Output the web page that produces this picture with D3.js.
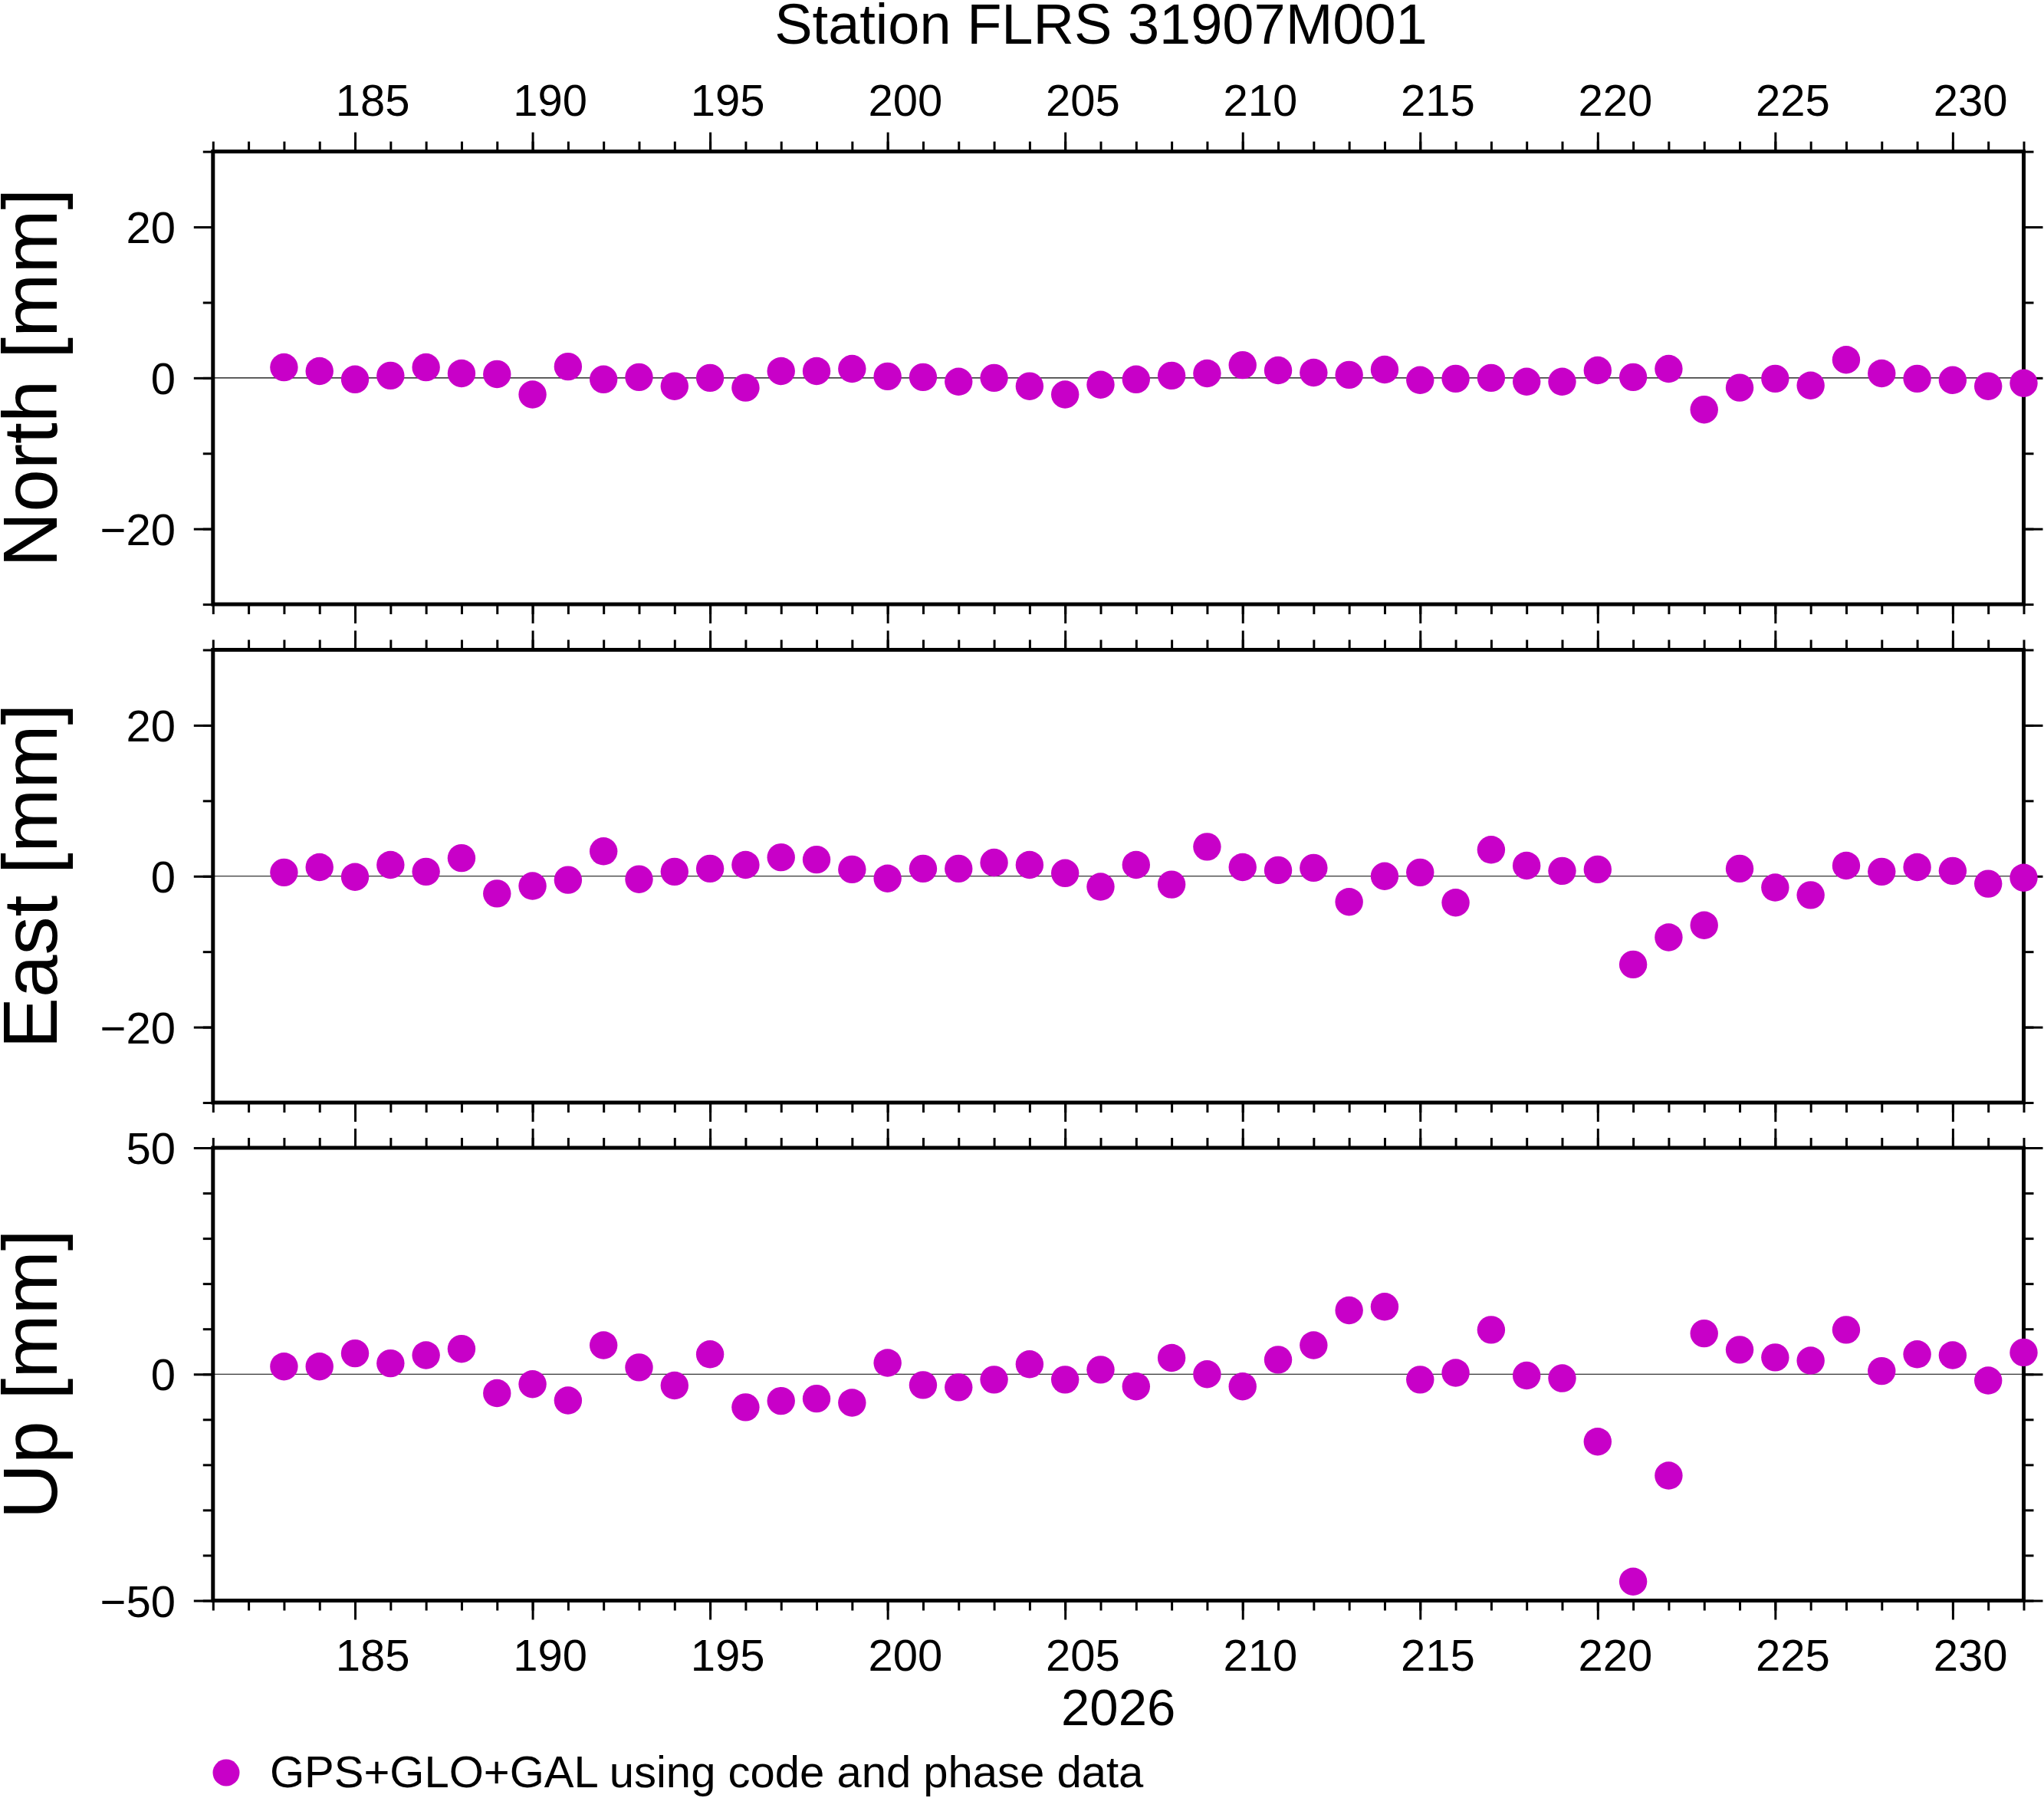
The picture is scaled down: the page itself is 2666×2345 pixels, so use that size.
<!DOCTYPE html>
<html>
<head>
<meta charset="utf-8">
<script src="https://cdn.jsdelivr.net/npm/d3@7"></script>
<style>
  html, body { margin: 0; padding: 0; background: #fff; }
  svg { display: block; }
  text { font-family: "Liberation Sans", Arial, Helvetica, sans-serif; fill: #000; }
</style>
</head>
<body>
<script>
// ---------------- data ----------------
const title = "Station FLRS 31907M001";
const yearLabel = "2026";
const legendLabel = "GPS+GLO+GAL using code and phase data";

const days = [183,184,185,186,187,188,189,190,191,192,193,194,195,196,197,198,199,200,201,202,
              203,204,205,206,207,208,209,210,211,212,213,214,215,216,217,218,219,220,221,222,
              223,224,225,226,227,228,229,230,231,232];

const north = [1.4, 0.9, -0.2, 0.3, 1.4, 0.6, 0.5, -2.2, 1.5, -0.2,
               0.1, -1.1, 0.0, -1.3, 0.9, 0.9, 1.2, 0.2, 0.1, -0.5,
               0.0, -1.1, -2.2, -0.9, -0.2, 0.3, 0.6, 1.7, 1.0, 0.7,
               0.4, 1.1, -0.3, -0.1, 0.0, -0.5, -0.5, 1.0, 0.1, 1.2,
               -4.2, -1.3, -0.1, -1.0, 2.4, 0.6, -0.1, -0.3, -1.1, -0.7];

const east = [0.5, 1.2, -0.1, 1.5, 0.6, 2.4, -2.3, -1.3, -0.5, 3.3,
              -0.4, 0.6, 1.0, 1.5, 2.5, 2.2, 0.9, -0.3, 1.0, 1.0,
              1.8, 1.5, 0.4, -1.4, 1.5, -1.1, 3.9, 1.2, 0.8, 1.1,
              -3.4, 0.0, 0.5, -3.5, 3.5, 1.4, 0.7, 0.9, -11.7, -8.1,
              -6.5, 1.0, -1.5, -2.5, 1.4, 0.6, 1.2, 0.7, -1.0, -0.2];

const up = [1.7, 1.7, 4.6, 2.4, 4.2, 5.6, -4.2, -2.2, -5.8, 6.4,
            1.5, -2.5, 4.4, -7.3, -5.9, -5.4, -6.3, 2.5, -2.4, -2.9,
            -1.2, 2.2, -1.2, 1.0, -2.7, 3.6, 0.0, -2.7, 3.2, 6.4,
            14.1, 14.9, -1.2, 0.3, 9.8, -0.3, -0.9, -14.9, -45.8, -22.4,
            9.0, 5.4, 3.7, 3.0, 9.8, 0.7, 4.4, 4.2, -1.4, 4.8];

const xDomain = [181, 232];
const xMajorTicks = [185, 190, 195, 200, 205, 210, 215, 220, 225, 230];
const xMinorTicks = [181,182,183,184,185,186,187,188,189,190,191,192,193,194,195,196,197,198,199,200,
                     201,202,203,204,205,206,207,208,209,210,211,212,213,214,215,216,217,218,219,220,
                     221,222,223,224,225,226,227,228,229,230,231,232];

const panelNames = ["North [mm]", "East [mm]", "Up [mm]"];
const panelDomains = [[-30, 30], [-30, 30], [-50, 50]];
const panelMajorTicks = [[-20, 0, 20], [-20, 0, 20], [-50, 0, 50]];
const panelMinorTicks = [[-30, -20, -10, 0, 10, 20, 30], [-30, -20, -10, 0, 10, 20, 30],
                         [-50, -40, -30, -20, -10, 0, 10, 20, 30, 40, 50]];
const panelValues = [north, east, up];

// ---------------- layout ----------------
const W = 2666, H = 2345;
const left = 277.8, right = 2639.5;
const panelTops = [197.6, 847.5, 1497.0];
const panelH = 590.5;
const color = "#c800c8";
const dotR = 18.2;
const frameW = 5;
const tickW = 3;
const majorLen = 25, minorLen = 13;
const fmt = v => (v < 0 ? "\u2212" + Math.abs(v) : String(v));

const svg = d3.select("body").append("svg")
  .attr("width", W).attr("height", H).attr("viewBox", `0 0 ${W} ${H}`);
svg.append("rect").attr("width", W).attr("height", H).attr("fill", "#fff");

const x = d3.scaleLinear().domain(xDomain).range([left, right]);

// title
svg.append("text")
  .attr("x", 1436).attr("y", 57)
  .attr("text-anchor", "middle")
  .attr("font-size", 74)
  .text(title);

function styleAxis(g) {
  g.select(".domain").remove();
  g.selectAll(".tick line").attr("stroke", "#000").attr("stroke-width", tickW);
  g.selectAll(".tick text").remove();
}

panelNames.forEach((name, i) => {
  const top = panelTops[i], bottom = top + panelH;
  const y = d3.scaleLinear().domain(panelDomains[i]).range([bottom, top]);
  const g = svg.append("g");

  // zero line
  g.append("line")
    .attr("x1", left).attr("x2", right)
    .attr("y1", y(0)).attr("y2", y(0))
    .attr("stroke", "#000").attr("stroke-width", 1.2);

  // x ticks: top & bottom, minor and major
  [[d3.axisTop, top], [d3.axisBottom, bottom]].forEach(([ax, yy]) => {
    g.append("g").attr("transform", `translate(0,${yy})`)
      .call(ax(x).tickValues(xMinorTicks).tickSize(minorLen).tickSizeOuter(0)).call(styleAxis);
    g.append("g").attr("transform", `translate(0,${yy})`)
      .call(ax(x).tickValues(xMajorTicks).tickSize(majorLen).tickSizeOuter(0)).call(styleAxis);
  });

  // y ticks: left & right
  [[d3.axisLeft, left], [d3.axisRight, right]].forEach(([ax, xx]) => {
    g.append("g").attr("transform", `translate(${xx},0)`)
      .call(ax(y).tickValues(panelMinorTicks[i]).tickSize(minorLen).tickSizeOuter(0)).call(styleAxis);
    g.append("g").attr("transform", `translate(${xx},0)`)
      .call(ax(y).tickValues(panelMajorTicks[i]).tickSize(majorLen).tickSizeOuter(0)).call(styleAxis);
  });

  // y tick labels
  g.selectAll(".ylab").data(panelMajorTicks[i]).enter().append("text")
    .attr("x", 229).attr("y", d => y(d) + 21)
    .attr("text-anchor", "end")
    .attr("font-size", 58)
    .text(fmt);

  // frame
  g.append("rect")
    .attr("x", left).attr("y", top)
    .attr("width", right - left).attr("height", panelH)
    .attr("fill", "none").attr("stroke", "#000").attr("stroke-width", frameW);

  // y axis title
  const mid = (top + bottom) / 2;
  g.append("text")
    .attr("transform", `translate(74,${mid}) rotate(-90)`)
    .attr("text-anchor", "middle")
    .attr("font-size", 100)
    .text(name);

  // dots
  g.selectAll(".dot").data(days.map((d, k) => [d, panelValues[i][k]])).enter().append("circle")
    .attr("cx", d => x(d[0])).attr("cy", d => y(d[1]))
    .attr("r", dotR).attr("fill", color);

  // x tick labels (interval annotation, centered in the day)
  if (i === 0) {
    g.selectAll(".xlabT").data(xMajorTicks).enter().append("text")
      .attr("x", d => x(d + 0.5)).attr("y", 150.5)
      .attr("text-anchor", "middle").attr("font-size", 58)
      .text(d => d);
  }
  if (i === 2) {
    g.selectAll(".xlabB").data(xMajorTicks).enter().append("text")
      .attr("x", d => x(d + 0.5)).attr("y", 2178.5)
      .attr("text-anchor", "middle").attr("font-size", 58)
      .text(d => d);
  }
});

// year label
svg.append("text")
  .attr("x", (left + right) / 2).attr("y", 2250)
  .attr("text-anchor", "middle").attr("font-size", 67)
  .text(yearLabel);

// legend
svg.append("circle").attr("cx", 295).attr("cy", 2312).attr("r", 17.5).attr("fill", color);
svg.append("text")
  .attr("x", 352).attr("y", 2330.5)
  .attr("font-size", 58)
  .text(legendLabel);
</script>
</body>
</html>
